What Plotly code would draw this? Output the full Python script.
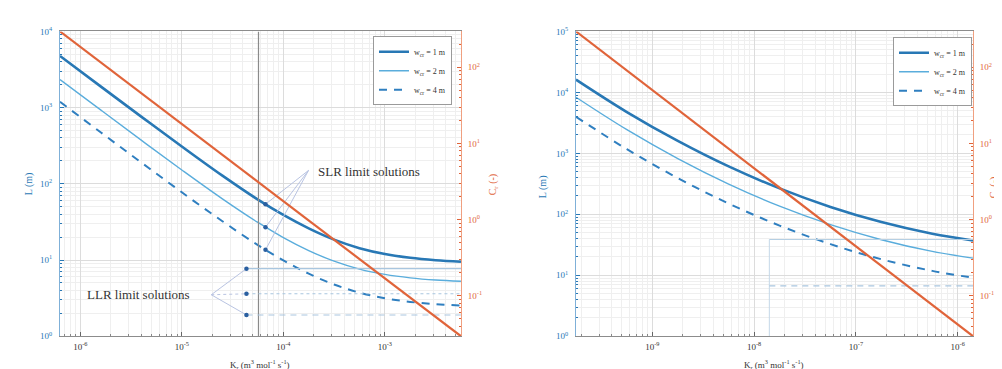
import plotly.graph_objects as go

# ---------------- data ----------------
K_left = [6.31e-7, 1.585e-6, 3.98e-6, 1e-5, 2.51e-5, 5.62e-5, 1e-4, 1.778e-4,
          3.16e-4, 5.62e-4, 1e-3, 1.778e-3, 3.16e-3, 5.62e-3]
L1_left = [4764, 1902, 763, 309, 128, 62, 39, 26, 18.5, 14.3, 12, 10.7, 9.95, 9.5]
L2_left = [2335, 933, 374, 152, 63.5, 31.1, 19.7, 13.3, 9.65, 7.6, 6.47, 5.83, 5.46, 5.26]
L3_left = [1191, 475, 191, 77.4, 32.3, 15.7, 9.9, 6.62, 4.77, 3.73, 3.15, 2.82, 2.64, 2.53]

K_right = [1.778e-10, 5.62e-10, 1.778e-9, 5.62e-9, 1.778e-8, 5.62e-8, 1.778e-7, 5.62e-7, 1.413e-6]
L1_right = [16218, 4764, 1600, 610, 266, 132, 74.6, 48, 37.2]
L2_right = [8318, 2444, 821, 313, 136, 67.7, 38.3, 24.6, 19.1]
L3_right = [3981, 1170, 393, 150, 65.3, 32.4, 18.3, 11.8, 9.1]

K_C_left = [6.31e-7, 5.62e-3]
C_left = [295, 0.0295]
K_C_right = [1.778e-10, 1.413e-6]
C_right = [295, 0.0295]

# limit solutions (left panel)
K_vline = 5.69e-5
K_SLR = 6.67e-5
L_SLR = [54, 27.0, 13.6]
K_LLR = 4.33e-5
L_LLR = [7.7, 3.6, 1.9]
K_LLR_end = 5.62e-3
SLR_label_pt = (1.77e-4, 150)
LLR_label_pt = (1.95e-5, 3.5)

# right panel limit lines
K_vline_r = 1.41e-8
L_lim_r = [38.6, 6.7]

series_names = ["w<sub>cr</sub> = 1 m", "w<sub>cr</sub> = 2 m", "w<sub>cr</sub> = 4 m"]
x_tick_left = [1e-6, 1e-5, 1e-4, 1e-3]
x_tick_left_txt = ["10<sup>-6</sup>", "10<sup>-5</sup>", "10<sup>-4</sup>", "10<sup>-3</sup>"]
x_tick_right = [1e-9, 1e-8, 1e-7, 1e-6]
x_tick_right_txt = ["10<sup>-9</sup>", "10<sup>-8</sup>", "10<sup>-7</sup>", "10<sup>-6</sup>"]
yL_tick_left = [1, 10, 100, 1000, 10000]
yL_tick_left_txt = ["10<sup>0</sup>", "10<sup>1</sup>", "10<sup>2</sup>", "10<sup>3</sup>", "10<sup>4</sup>"]
yL_tick_right = [1, 10, 100, 1000, 10000, 100000]
yL_tick_right_txt = ["10<sup>0</sup>", "10<sup>1</sup>", "10<sup>2</sup>", "10<sup>3</sup>", "10<sup>4</sup>", "10<sup>5</sup>"]
yC_tick = [0.1, 1, 10, 100]
yC_tick_txt = ["10<sup>-1</sup>", "10<sup>0</sup>", "10<sup>1</sup>", "10<sup>2</sup>"]

# ---------------- styles ----------------
BLUE = "#2878b5"
LBLUE = "#5aaddc"
DBLUE = "#2f7fc0"
ORANGE = "#e0643a"
GRID = "#dcdcdc"
MGRID = "#efefef"
FONT = "Liberation Serif"

styles = [dict(color=BLUE, width=2.6),
          dict(color=LBLUE, width=1.4),
          dict(color=DBLUE, width=2.0, dash="8px,7px")]

fig = go.Figure()

def add_panel(K, Ls, KC, C, xa, ya, ya2, legend):
    for i, (L, st) in enumerate(zip(Ls, styles)):
        fig.add_trace(go.Scatter(x=K, y=L, mode="lines", line=dict(shape="spline", **st),
                                 name=series_names[i], xaxis=xa, yaxis=ya, legend=legend))
    fig.add_trace(go.Scatter(x=KC, y=C, mode="lines", line=dict(color=ORANGE, width=2.2),
                             showlegend=False, xaxis=xa, yaxis=ya2))

add_panel(K_left, [L1_left, L2_left, L3_left], K_C_left, C_left, "x", "y", "y2", "legend")
add_panel(K_right, [L1_right, L2_right, L3_right], K_C_right, C_right, "x2", "y3", "y4", "legend2")

def line(xs, ys, color, width=1, dash=None, xa="x", ya="y"):
    fig.add_trace(go.Scatter(x=xs, y=ys, mode="lines",
                             line=dict(color=color, width=width, dash=dash),
                             showlegend=False, xaxis=xa, yaxis=ya, hoverinfo="skip"))

# left panel limit elements
line([K_vline, K_vline], [1, 1e4], "#8a8a8a", 1.2)
lim_dash = [None, "dot", "6px,5px"]
for v, d in zip(L_LLR, lim_dash):
    line([K_LLR, K_LLR_end], [v, v], "#a9c6df", 1.1, d)
for v in L_SLR:
    line([SLR_label_pt[0], K_SLR], [SLR_label_pt[1], v], "#b9c4e2", 1)
for v, d in zip(L_LLR, [None, "dot", None]):
    line([LLR_label_pt[0], K_LLR], [LLR_label_pt[1], v], "#b9c4e2", 1, d)
fig.add_trace(go.Scatter(x=[K_SLR] * 3 + [K_LLR] * 3, y=L_SLR + L_LLR, mode="markers",
                         marker=dict(color="#2a5fa0", size=4.5), showlegend=False,
                         xaxis="x", yaxis="y"))

# right panel limit elements
line([K_vline_r, K_vline_r], [1, L_lim_r[0]], "#c5d8e8", 1, None, "x2", "y3")
line([K_vline_r, K_right[-1]], [L_lim_r[0], L_lim_r[0]], "#b5cfe3", 1.1, None, "x2", "y3")
line([K_vline_r, K_right[-1]], [L_lim_r[1], L_lim_r[1]], "#a9c6df", 1.1, "6px,5px", "x2", "y3")

# ---------------- axes ----------------
ydom = [1 - 332 / 369, 1 - 17 / 369]
tickfont = dict(family=FONT, size=9)

def xaxis(dom, rng, tv, tt, anchor):
    return dict(type="log", domain=dom, range=rng, anchor=anchor, tickvals=tv, ticktext=tt,
                showgrid=True, gridcolor=GRID, gridwidth=1,
                minor=dict(dtick="D1", showgrid=True, gridcolor=MGRID, ticks="inside",
                           ticklen=2, tickcolor="#888"),
                ticks="inside", ticklen=4, tickcolor="#666", ticklabelstandoff=2,
                showline=True, linecolor="#8c8c8c", linewidth=1, mirror=True,
                tickfont=dict(color="#333", **tickfont), zeroline=False)

def yleft(rng, tv, tt, anchor):
    return dict(type="log", domain=ydom, range=rng, anchor=anchor, tickvals=tv, ticktext=tt,
                showgrid=True, gridcolor=GRID,
                minor=dict(dtick="D1", showgrid=True, gridcolor=MGRID, ticks="inside",
                           ticklen=2, tickcolor=BLUE),
                ticks="inside", ticklen=4, tickcolor=BLUE, ticklabelstandoff=5,
                showline=True, linecolor="#7fb0d8", linewidth=1,
                tickfont=dict(color=BLUE, **tickfont), zeroline=False)

def yright(overlay, anchor):
    return dict(type="log", range=[-1.53, 2.47], overlaying=overlay, side="right", anchor=anchor,
                tickvals=yC_tick, ticktext=yC_tick_txt, showgrid=False,
                minor=dict(dtick="D1", ticks="inside", ticklen=2, tickcolor=ORANGE, showgrid=False),
                ticks="inside", ticklen=4, tickcolor=ORANGE, ticklabelstandoff=4,
                showline=True, linecolor="#f0a080", linewidth=1,
                tickfont=dict(color=ORANGE, **tickfont), zeroline=False)

fig.update_layout(
    width=1002, height=369,
    margin=dict(l=0, r=0, t=0, b=0),
    paper_bgcolor="white", plot_bgcolor="white",
    font=dict(family=FONT, size=10, color="#333"),
    xaxis=xaxis([52 / 1002, 453 / 1002], [-6.2, -2.25], x_tick_left, x_tick_left_txt, "y"),
    yaxis=yleft([0, 4], yL_tick_left, yL_tick_left_txt, "x"),
    yaxis2=yright("y", "x"),
    xaxis2=xaxis([568 / 1002, 965 / 1002], [-9.75, -5.85], x_tick_right, x_tick_right_txt, "y3"),
    yaxis3=yleft([0, 5], yL_tick_right, yL_tick_right_txt, "x2"),
    yaxis4=yright("y3", "x2"),
    legend=dict(x=365 / 1002, y=1 - 22 / 369, xanchor="left", yanchor="top",
                bgcolor="white", bordercolor="#9a9a9a", borderwidth=1,
                font=dict(family=FONT, size=8, color="#333"), itemwidth=30, tracegroupgap=0),
    legend2=dict(x=885 / 1002, y=1 - 23 / 369, xanchor="left", yanchor="top",
                 bgcolor="white", bordercolor="#9a9a9a", borderwidth=1,
                 font=dict(family=FONT, size=8, color="#333"), itemwidth=30, tracegroupgap=0),
)

ann = [
    dict(text="SLR limit solutions", x=308 / 1002, y=1 - 162 / 369, xanchor="left", yanchor="middle",
         font=dict(family=FONT, size=13, color="#333")),
    dict(text="LLR limit solutions", x=77 / 1002, y=1 - 289 / 369, xanchor="left", yanchor="middle",
         font=dict(family=FONT, size=13, color="#333")),
    dict(text="L (m)", x=21 / 1002, y=1 - 175 / 369, textangle=-90,
         font=dict(family=FONT, size=10, color=BLUE)),
    dict(text="C<sub>r</sub> (-)", x=485 / 1002, y=1 - 175 / 369, textangle=-90,
         font=dict(family=FONT, size=10, color=ORANGE)),
    dict(text="L (m)", x=535 / 1002, y=1 - 178 / 369, textangle=-90,
         font=dict(family=FONT, size=10, color=BLUE)),
    dict(text="C<sub>r</sub> (-)", x=986 / 1002, y=1 - 178 / 369, textangle=-90,
         font=dict(family=FONT, size=10, color=ORANGE)),
    dict(text="K<sub>r</sub> (m<sup>3</sup> mol<sup>-1</sup> s<sup>-1</sup>)", x=252 / 1002,
         y=1 - 361 / 369, font=dict(family=FONT, size=9, color="#333")),
    dict(text="K<sub>r</sub> (m<sup>3</sup> mol<sup>-1</sup> s<sup>-1</sup>)", x=766 / 1002,
         y=1 - 361 / 369, font=dict(family=FONT, size=9, color="#333")),
]
for a in ann:
    a.setdefault("xanchor", "center")
    a.setdefault("yanchor", "middle")
    fig.add_annotation(xref="paper", yref="paper", showarrow=False, **a)

fig.write_html("out.html")
